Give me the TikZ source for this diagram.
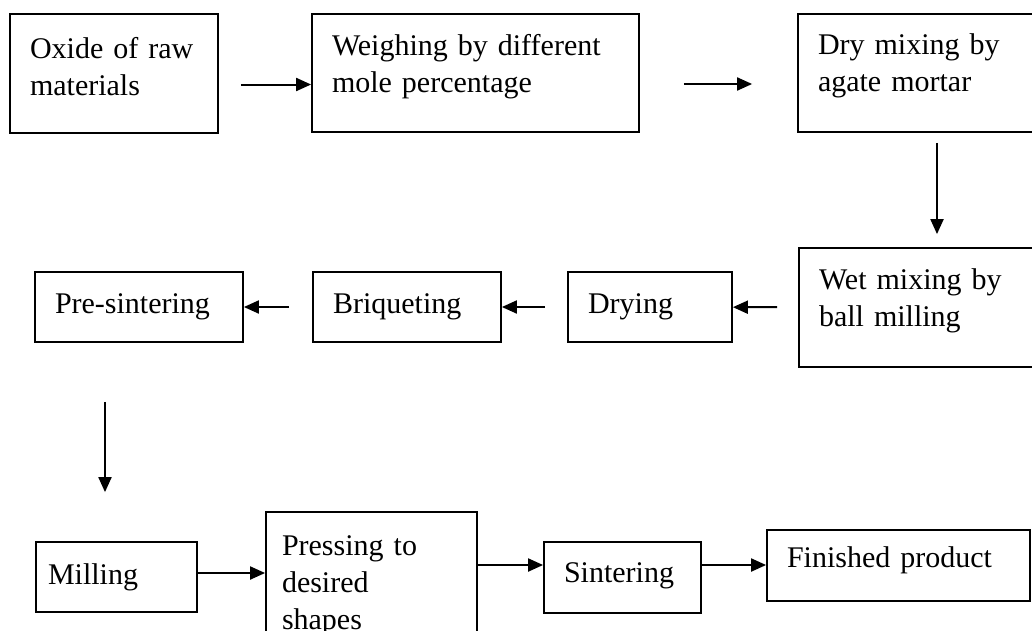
\documentclass[tikz,border=0pt]{standalone}
\usepackage{fontspec}
\setmainfont{Liberation Serif}
\usetikzlibrary{arrows.meta}
\tikzset{
	stepbox/.style={draw, line width=1.8pt, align=left, inner xsep=20pt, inner ysep=0pt,
		font=\fontsize{30pt}{37pt}\selectfont},
	flow/.style={line width=2pt, -{Triangle[length=15pt,width=13pt]}}
}

\begin{document}
\begin{tikzpicture}[x=1pt, y=-1pt]
			%%%%% START %%%%%
			
			\useasboundingbox (0, 0) rectangle (1032, 630);
			\clip (0, 0) rectangle (1032, 630);
			
			\node[stepbox, text width=168pt, minimum height=119pt, text depth=51pt] (oxide) at (114, 73.5) {Oxide of raw\\materials};
			\node[stepbox, text width=287pt, minimum height=118pt, text depth=57pt] (weigh) at (475.5, 73) {Weighing by different\\mole percentage};
			\node[stepbox, text width=202pt, minimum height=118pt, text depth=57pt] (dry) at (919, 73) {Dry mixing by\\agate mortar};
			
			\node[stepbox, text width=201pt, minimum height=119pt, text depth=56pt] (wet) at (919.5, 307.5) {Wet mixing by\\ball milling};
			\node[stepbox, text width=124pt, minimum height=70pt] (drying) at (650, 307) {Drying};
			\node[stepbox, text width=148pt, minimum height=70pt] (briq) at (407, 307) {Briqueting};
			\node[stepbox, text width=168pt, minimum height=70pt] (pre) at (139, 307) {Pre-sintering};
			
			\node[stepbox, inner xsep=12pt, text width=137pt, minimum height=70pt] (mill) at (116.5, 577) {Milling};
			\node[stepbox, inner xsep=16pt, text width=179pt, minimum height=148pt] (press) at (371.5, 586) {Pressing to\\desired\\shapes};
			\node[stepbox, text width=117pt, minimum height=71pt, text depth=10pt] (sint) at (622.5, 577.5) {Sintering};
			\node[stepbox, text width=223pt, minimum height=71pt, text depth=16pt] (fin) at (898.5, 565.5) {Finished product};
			
			\draw[flow, shorten <=22pt] ([yshift=-11pt]oxide.east) -- ([yshift=-11pt]oxide.east -| weigh.west);
			\draw[flow, shorten <=44pt, shorten >=45pt] ([yshift=-11pt]weigh.east) -- ([yshift=-11pt]weigh.east -| dry.west);
			\draw[flow, shorten <=10pt, shorten >=13pt] ([xshift=18pt]dry.south) -- ([xshift=18pt]dry.south |- wet.north);
			
			\draw[flow, shorten <=21pt] (wet) -- (drying);
			\draw[flow, shorten <=22pt] (drying) -- (briq);
			\draw[flow, shorten <=23pt] (briq) -- (pre);
			\draw[flow, shorten <=59pt, shorten >=49pt] ([xshift=-34pt]pre.south) -- ([xshift=-34pt]pre.south |- mill.north);
			
			\draw[flow] ([yshift=4pt]mill.east) -- ([yshift=4pt]mill.east -| press.west);
			\draw[flow] ([yshift=21pt]press.east) -- ([yshift=21pt]press.east -| sint.west);
			\draw[flow] ([yshift=12.5pt]sint.east) -- ([yshift=12.5pt]sint.east -| fin.west);
			
			%%%%% END %%%%%
\end{tikzpicture}
\end{document}
